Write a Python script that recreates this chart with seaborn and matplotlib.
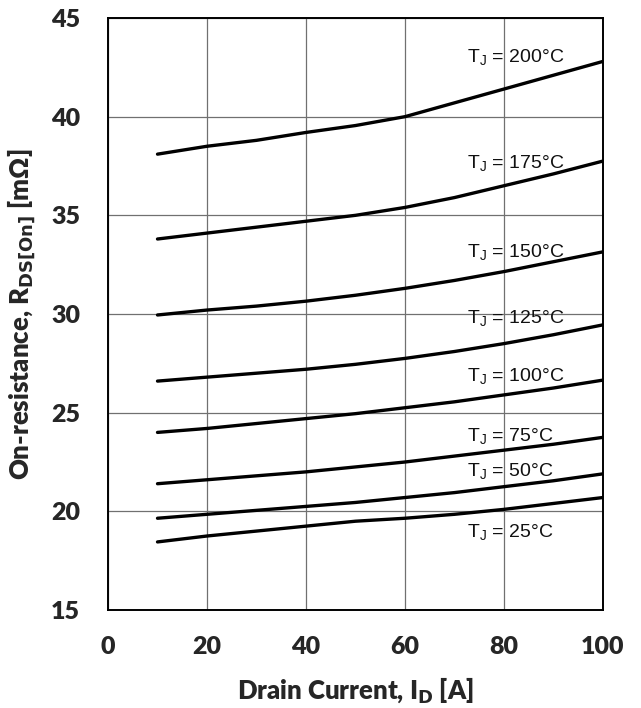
import numpy as np
import pandas as pd
import matplotlib
matplotlib.use("Agg")
import matplotlib.pyplot as plt
import seaborn as sns

# Data
drain_current = [10, 20, 30, 40, 50, 60, 70, 80, 90, 100]
r_200 = [38.1, 38.5, 38.8, 39.2, 39.55, 40.0, 40.7, 41.4, 42.1, 42.8]
r_175 = [33.8, 34.1, 34.4, 34.7, 35.0, 35.4, 35.9, 36.5, 37.1, 37.75]
r_150 = [29.95, 30.2, 30.4, 30.65, 30.95, 31.3, 31.7, 32.15, 32.65, 33.15]
r_125 = [26.6, 26.8, 27.0, 27.2, 27.45, 27.75, 28.1, 28.5, 28.95, 29.45]
r_100 = [24.0, 24.2, 24.45, 24.7, 24.95, 25.25, 25.55, 25.9, 26.25, 26.65]
r_75 = [21.4, 21.6, 21.8, 22.0, 22.25, 22.5, 22.8, 23.1, 23.4, 23.75]
r_50 = [19.65, 19.85, 20.05, 20.25, 20.45, 20.7, 20.95, 21.25, 21.55, 21.9]
r_25 = [18.45, 18.75, 19.0, 19.25, 19.5, 19.65, 19.85, 20.1, 20.4, 20.7]

temps = ["200", "175", "150", "125", "100", "75", "50", "25"]
series = [r_200, r_175, r_150, r_125, r_100, r_75, r_50, r_25]
label_x = [72.5] * 8
label_y = [43.0, 37.6, 33.1, 29.75, 26.8, 23.75, 22.0, 18.9]

x_ticks = [0, 20, 40, 60, 80, 100]
y_ticks = [15, 20, 25, 30, 35, 40, 45]

rows = []
for t, vals in zip(temps, series):
    for x, v in zip(drain_current, vals):
        rows.append({"I_D": x, "R": v, "T": t})
df = pd.DataFrame(rows)

sns.set_style("white")
plt.rcParams["font.family"] = ["Liberation Sans", "DejaVu Sans"]

fig = plt.figure(figsize=(6.41, 7.08), dpi=100)
ax = fig.add_axes([0.1685, 0.1384, 0.7722, 0.8362])

sns.lineplot(data=df, x="I_D", y="R", hue="T", hue_order=temps,
             palette=["black"] * len(temps), linewidth=2.4, legend=False, ax=ax)

ax.set_xlim(0, 100)
ax.set_ylim(15, 45)
ax.set_xticks(x_ticks)
ax.set_yticks(y_ticks)
ax.grid(True, color="#707070", linewidth=0.9)
ax.set_axisbelow(True)
for s in ax.spines.values():
    s.set_color("black")
    s.set_linewidth(1.4)
    s.set_visible(True)

tick_font = dict(family="Lato", weight="heavy", size=18)
ax.set_xticklabels([str(v) for v in x_ticks], fontdict=tick_font)
ax.set_yticklabels([str(v) for v in y_ticks], fontdict=tick_font)
ax.tick_params(axis="x", length=0, pad=19)
ax.tick_params(axis="y", length=0, pad=20)

ax.set_xlabel("Drain Current, I$_\\mathregular{\\bf D}$ [A]", family="Lato",
              weight="heavy", size=18.5, labelpad=12)
ax.set_ylabel("On-resistance, R$_\\mathregular{\\bf DS[On]}$ [mΩ]", family="Lato",
              weight="heavy", size=18.5, labelpad=10)

for t, lx, ly in zip(temps, label_x, label_y):
    ax.text(lx, ly, "T$_\\mathregular{J}$ = " + t + "°C", fontsize=14,
            family="Liberation Sans", va="center", ha="left", color="#111111")

fig.savefig("out.png", dpi=100)
